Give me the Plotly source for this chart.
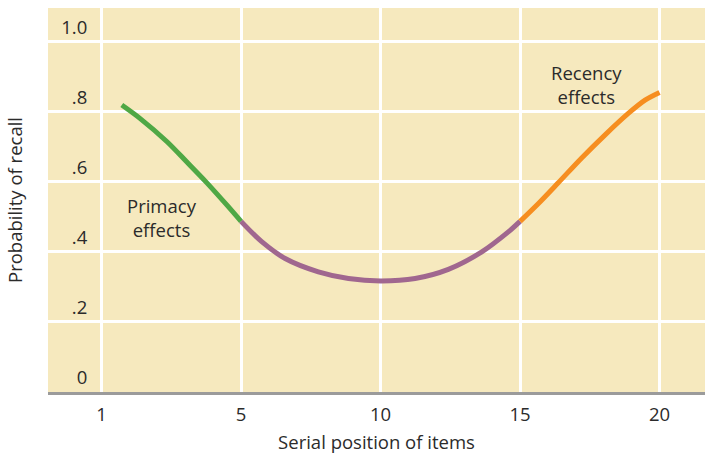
import numpy as np
import plotly.graph_objects as go

# Tick positions on the serial-position axis (drawn evenly spaced in the original)
x_tick_positions = [1, 5, 10, 15, 20]
x_tick_labels = ["1", "5", "10", "15", "20"]
y_tick_values = [0, 0.2, 0.4, 0.6, 0.8, 1.0]
y_tick_labels = ["0", ".2", ".4", ".6", ".8", "1.0"]

# Curve: serial position -> probability of recall
primacy_pos = [1.58, 2.10, 2.87, 3.44, 4.02, 4.59, 5.0]
primacy_p = [0.819, 0.781, 0.715, 0.657, 0.597, 0.534, 0.487]

middle_pos = [5.0, 5.74, 6.58, 7.77, 8.85, 10.0, 11.24, 12.43, 13.63, 14.58, 15.0]
middle_p = [0.487, 0.429, 0.381, 0.343, 0.324, 0.317, 0.324, 0.350, 0.400, 0.457, 0.487]

recency_pos = [15.0, 15.66, 16.37, 17.21, 18.05, 18.88, 19.48, 20.0]
recency_p = [0.487, 0.538, 0.597, 0.668, 0.734, 0.795, 0.833, 0.855]


def slot(pos):
    """Place a serial position on the evenly spaced category scale used by the figure."""
    return np.interp(pos, x_tick_positions, np.arange(len(x_tick_positions)))


FONT = "Open Sans"
TXT = "#2b2b2b"
FS = 18.5

fig = go.Figure()
for xs, ys, col in [
    (primacy_pos, primacy_p, "#4fa845"),
    (middle_pos, middle_p, "#a0678f"),
    (recency_pos, recency_p, "#f68e20"),
]:
    fig.add_trace(go.Scatter(
        x=slot(xs), y=ys, mode="lines",
        line=dict(color=col, width=5, shape="spline", smoothing=0.9),
        hoverinfo="skip", showlegend=False,
    ))

fig.add_annotation(x=0.432, y=0.497, xref="x", yref="y", text="Primacy<br>effects",
                   showarrow=False, font=dict(family=FONT, size=FS, color=TXT), align="center")
fig.add_annotation(x=3.48, y=0.878, xref="x", yref="y", text="Recency<br>effects",
                   showarrow=False, font=dict(family=FONT, size=FS, color=TXT), align="center")

fig.update_layout(
    width=705, height=454,
    margin=dict(l=48, r=0, t=8, b=62),
    paper_bgcolor="white",
    plot_bgcolor="#f6e9be",
    font=dict(family=FONT, size=FS, color=TXT),
    showlegend=False,
    xaxis=dict(
        range=[-0.384, 4.326],
        tickvals=list(slot(x_tick_positions)),
        ticktext=x_tick_labels,
        showgrid=True, gridcolor="white", gridwidth=3,
        zeroline=False,
        showline=True, linecolor="#9b9b9b", linewidth=3,
        ticks="outside", ticklen=0, tickcolor="white", ticklabelstandoff=4,
        tickfont=dict(family=FONT, size=FS, color=TXT),
        title=dict(text="Serial position of items", font=dict(family=FONT, size=FS, color=TXT), standoff=16),
        automargin=False,
        fixedrange=True,
    ),
    yaxis=dict(
        range=[0, 1.096],
        tickvals=y_tick_values,
        ticktext=y_tick_labels,
        showgrid=True, gridcolor="white", gridwidth=3,
        zeroline=False, showline=False,
        ticks="outside", ticklen=0, tickcolor="white",
        ticklabelstandoff=-44, ticklabelshift=-14,
        tickfont=dict(family=FONT, size=FS, color=TXT),
        title=dict(text="Probability of recall", font=dict(family=FONT, size=FS, color=TXT), standoff=33),
        automargin=False,
        fixedrange=True,
    ),
)

# Let the figure fill the whole window (no default page margin, no scrollbars).
fig.write_html(
    "out.html",
    config={"displayModeBar": False},
    post_script="document.body.style.margin='0';document.documentElement.style.overflow='hidden';",
)
